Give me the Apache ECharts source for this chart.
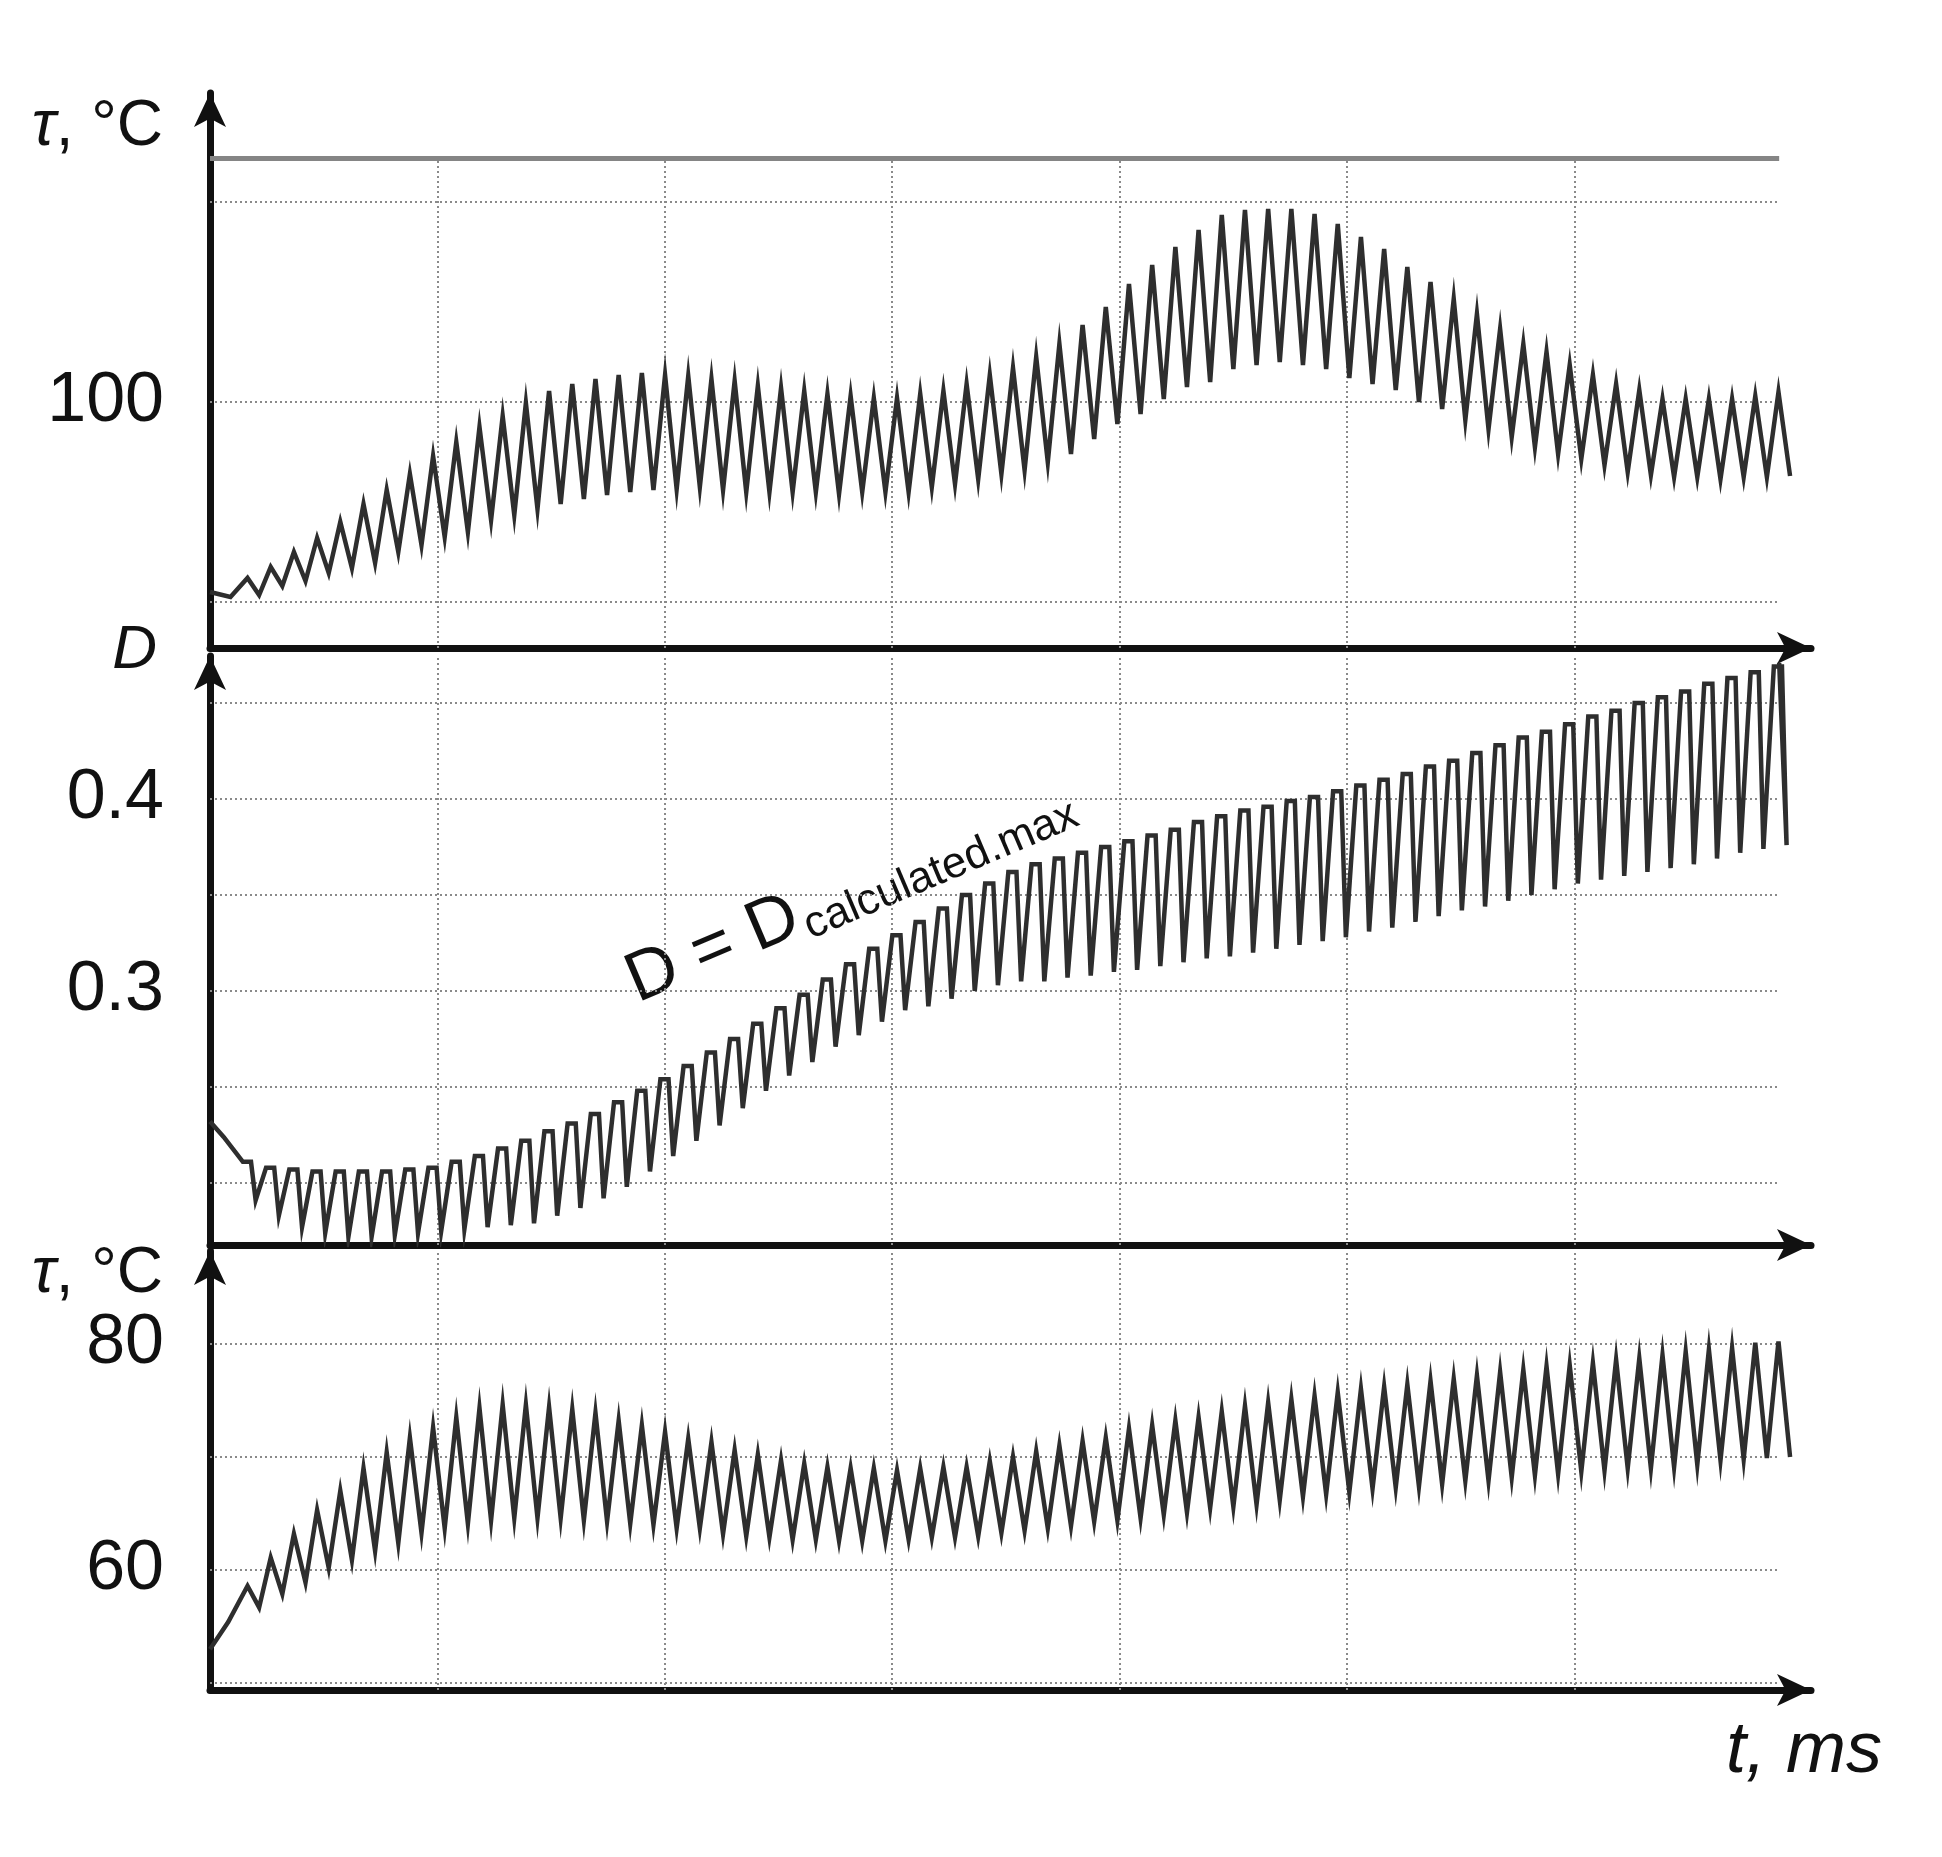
<!DOCTYPE html>
<html>
<head>
<meta charset="utf-8">
<script src="https://cdn.jsdelivr.net/npm/echarts@6/dist/echarts.min.js"></script>
<style>
  html, body { margin: 0; padding: 0; background: #fff; }
  #chart { width: 1942px; height: 1857px; }
</style>
</head>
<body>
<div id="chart"></div>
<script>
// time axis: one oscillation cycle every PERIOD, first peak at FIRST_PEAK
const PERIOD = 0.102;
const FIRST_PEAK = 0.165;
const T_MAX = 7.04;
const GRID_END = 6.9;
const T_GRID = [1, 2, 3, 4, 5, 6];

// upper panel: tau, °C
const TAU1_RANGE = [75.4, 130.9];
const TAU1_GRID = [80, 100, 120];
const TAU1_LABELS = [100];
const TAU1_LIMIT = 124.4;
const tau1Start = [[0, 81.0], [0.09, 80.5]];
const tau1Peaks = [
  82.4, 83.5, 85.0, 86.4, 88.0, 89.8, 91.2, 92.8, 94.6, 96.0,
  97.5, 98.6, 99.9, 101.1, 101.8, 102.3, 102.7, 102.9, 102.7, 102.6,
  102.3, 102.1, 101.6, 101.4, 101.1, 100.8, 100.6, 100.4, 100.4, 100.8,
  101.1, 101.8, 102.7, 103.4, 104.5, 105.8, 107.7, 109.5, 111.8, 113.7,
  115.5, 117.2, 118.7, 119.2, 119.3, 119.3, 118.8, 117.8, 116.5, 115.3,
  113.5, 112.0, 110.3, 108.8, 107.3, 105.8, 105.0, 103.7, 102.7, 101.8,
  101.2, 100.3, 100.3, 100.3, 100.3, 100.6, 101.0
];
const tau1Troughs = [
  80.7, 81.6, 82.1, 82.9, 83.4, 83.9, 85.0, 85.7, 86.5, 87.0,
  88.2, 88.7, 89.3, 89.8, 90.3, 90.7, 91.0, 91.2, 91.3, 91.5,
  91.2, 91.0, 91.0, 91.0, 91.0, 90.8, 91.0, 91.0, 91.0, 91.5,
  91.8, 92.3, 92.8, 93.2, 94.0, 94.8, 96.3, 97.8, 98.8, 100.3,
  101.5, 102.0, 103.3, 103.7, 104.0, 103.7, 103.3, 102.4, 101.8, 101.2,
  100.0, 99.3, 98.2, 97.3, 96.5, 95.5, 94.8, 94.3, 93.7, 93.0,
  92.7, 92.5, 92.5, 92.3, 92.5, 92.5, 92.6
];

// middle panel: D
const D_RANGE = [0.1677, 0.4745];
const D_GRID = [0.2, 0.25, 0.3, 0.35, 0.4, 0.45];
const D_LABELS = [0.3, 0.4];
const dStart = [[0, 0.232], [0.06, 0.224]];
const dEnd = [6.9, 0.471];
const dTops = [
  0.211, 0.208, 0.207, 0.206, 0.206, 0.206, 0.206, 0.207, 0.208, 0.211,
  0.214, 0.218, 0.222, 0.227, 0.231, 0.236, 0.242, 0.248, 0.254, 0.261,
  0.268, 0.275, 0.283, 0.291, 0.298, 0.306, 0.314, 0.322, 0.329, 0.336,
  0.343, 0.350, 0.356, 0.362, 0.366, 0.369, 0.372, 0.375, 0.378, 0.381,
  0.384, 0.388, 0.391, 0.394, 0.396, 0.399, 0.401, 0.404, 0.407, 0.410,
  0.413, 0.417, 0.420, 0.424, 0.428, 0.432, 0.435, 0.439, 0.443, 0.446,
  0.450, 0.453, 0.456, 0.460, 0.463, 0.466, 0.469
];
const dBottoms = [
  0.191, 0.183, 0.177, 0.174, 0.172, 0.172, 0.173, 0.174, 0.175, 0.176,
  0.177, 0.178, 0.179, 0.183, 0.187, 0.192, 0.198, 0.206, 0.214, 0.222,
  0.230, 0.239, 0.248, 0.256, 0.263, 0.271, 0.277, 0.284, 0.290, 0.292,
  0.296, 0.300, 0.303, 0.305, 0.305, 0.307, 0.308, 0.310, 0.311, 0.313,
  0.315, 0.317, 0.318, 0.320, 0.322, 0.324, 0.326, 0.328, 0.331, 0.333,
  0.336, 0.339, 0.342, 0.344, 0.347, 0.350, 0.353, 0.356, 0.358, 0.360,
  0.362, 0.364, 0.366, 0.369, 0.372, 0.374, 0.376
];

// lower panel: tau, °C
const TAU3_RANGE = [49.4, 88.2];
const TAU3_GRID = [50, 60, 70, 80];
const TAU3_LABELS = [60, 80];
const tau3Start = [[0, 53.0], [0.08, 55.4]];
const tau3Peaks = [
  58.6, 61.1, 63.2, 65.3, 67.0, 69.0, 70.4, 71.7, 72.6, 73.5,
  74.3, 74.6, 74.6, 74.4, 74.2, 73.9, 73.2, 72.8, 72.2, 71.6,
  71.3, 70.6, 70.2, 69.7, 69.4, 69.1, 69.0, 69.0, 68.8, 69.0,
  69.1, 69.1, 69.6, 70.0, 70.5, 71.0, 71.4, 71.7, 72.5, 72.8,
  73.2, 73.5, 74.0, 74.5, 74.8, 75.1, 75.4, 75.7, 76.0, 76.2,
  76.4, 76.7, 76.9, 77.2, 77.5, 77.7, 78.0, 78.1, 78.3, 78.6,
  78.7, 79.0, 79.3, 79.5, 79.6, 80.1, 80.2
];
const tau3Troughs = [
  56.7, 57.9, 58.9, 60.2, 60.9, 61.7, 62.4, 63.3, 63.7, 64.1,
  64.4, 64.6, 64.6, 64.6, 64.4, 64.3, 64.1, 64.0, 63.7, 63.7,
  63.2, 63.0, 62.9, 62.7, 62.7, 62.6, 62.6, 62.6, 62.7, 62.9,
  62.9, 63.0, 63.3, 63.5, 63.7, 63.9, 64.3, 64.4, 64.6, 64.9,
  65.1, 65.5, 65.6, 65.8, 66.2, 66.5, 66.7, 66.9, 67.2, 67.3,
  67.4, 67.6, 67.9, 67.9, 68.2, 68.4, 68.5, 68.7, 68.8, 69.0,
  69.0, 69.1, 69.3, 69.7, 69.8, 69.9, 70.0
];

const FONT = "'Liberation Sans', Arial, sans-serif";
const INK = '#111';
const TRACE = '#2e2e2e';

function zigzag(start, peaks, troughs) {
  const pts = start.slice();
  peaks.forEach((p, k) => {
    const t = FIRST_PEAK + k * PERIOD;
    pts.push([t, p]);
    pts.push([t + 0.5 * PERIOD, troughs[k]]);
  });
  return pts;
}

function sawtooth(start, tops, bottoms, end) {
  const pts = start.slice();
  tops.forEach((v, k) => {
    const t = FIRST_PEAK + k * PERIOD;
    pts.push([t - 0.2 * PERIOD, v]);
    pts.push([t + 0.15 * PERIOD, v]);
    pts.push([t + 0.35 * PERIOD, bottoms[k]]);
  });
  pts.push(end);
  return pts;
}

const dotted = { color: '#8a8a8a', width: 2, type: [2, 3] };

function gridLines(hValues, vTop, vBottom, extra) {
  const data = [];
  hValues.forEach((v) => data.push([{ coord: [0, v] }, { coord: [GRID_END, v] }]));
  T_GRID.forEach((t) => data.push([{ coord: [t, vBottom] }, { coord: [t, vTop] }]));
  return data.concat(extra || []);
}

function gridSeries(idx, data) {
  return {
    type: 'line', xAxisIndex: idx, yAxisIndex: idx, data: [], silent: true,
    markLine: {
      silent: true, symbol: ['none', 'none'], label: { show: false },
      lineStyle: dotted, animation: false, z: 1, data: data
    }
  };
}

function traceSeries(idx, data) {
  return {
    type: 'line', xAxisIndex: idx, yAxisIndex: idx, data: data, z: 10,
    showSymbol: false, silent: true,
    lineStyle: { color: TRACE, width: 4.5, join: 'miter' }
  };
}

function xAxis(idx) {
  return {
    type: 'value', gridIndex: idx, min: 0, max: T_MAX,
    axisLine: { show: true, symbol: ['none', 'arrow'], symbolSize: [24, 34],
      lineStyle: { color: INK, width: 7 } },
    axisTick: { show: false }, axisLabel: { show: false }, splitLine: { show: false }
  };
}

function yAxis(idx, range, labels, fmt) {
  return {
    type: 'value', gridIndex: idx, min: range[0], max: range[1],
    axisLine: { show: true, symbol: ['none', 'arrow'], symbolSize: [24, 34],
      lineStyle: { color: INK, width: 7 } },
    axisTick: { show: false },
    splitLine: { show: false },
    axisLabel: {
      customValues: labels, margin: 46, color: INK,
      fontSize: 70, fontFamily: FONT, formatter: fmt
    }
  };
}

function label(x, y, text, size, align, italic) {
  return {
    type: 'text', x: x, y: y, silent: true,
    style: {
      text: text, fill: INK, font: (italic ? 'italic ' : '') + size + 'px ' + FONT,
      align: align, verticalAlign: 'middle'
    }
  };
}

function tauTitle(x, y) {
  return {
    type: 'text', x: x, y: y, silent: true,
    style: {
      text: '{i|τ}{n|, °C}', align: 'right', verticalAlign: 'middle', fill: INK,
      rich: {
        i: { fontSize: 64, fontFamily: FONT, fontStyle: 'italic', fill: INK },
        n: { fontSize: 64, fontFamily: FONT, fill: INK }
      }
    }
  };
}

const chart = echarts.init(document.getElementById('chart'), null, { renderer: 'canvas' });
const ANGLE = 23 * Math.PI / 180;

chart.setOption({
  animation: false,
  backgroundColor: '#fff',
  grid: [
    { left: 210, right: 131, top: 93, height: 555 },
    { left: 210, right: 131, top: 656, height: 589 },
    { left: 210, right: 131, top: 1251, height: 439 }
  ],
  xAxis: [xAxis(0), xAxis(1), xAxis(2)],
  yAxis: [
    yAxis(0, TAU1_RANGE, TAU1_LABELS, (v) => String(Math.round(v))),
    yAxis(1, D_RANGE, D_LABELS, (v) => v.toFixed(1)),
    yAxis(2, TAU3_RANGE, TAU3_LABELS, (v) => String(Math.round(v)))
  ],
  series: [
    gridSeries(0, gridLines(TAU1_GRID, TAU1_LIMIT, TAU1_RANGE[0], [
      [{ coord: [0, TAU1_LIMIT], lineStyle: { color: '#858585', width: 5, type: 'solid' } },
       { coord: [GRID_END, TAU1_LIMIT] }]
    ])),
    gridSeries(1, gridLines(D_GRID, D_RANGE[1], D_RANGE[0])),
    gridSeries(2, gridLines(TAU3_GRID, TAU3_RANGE[1], TAU3_RANGE[0])),
    traceSeries(0, zigzag(tau1Start, tau1Peaks, tau1Troughs)),
    traceSeries(1, sawtooth(dStart, dTops, dBottoms, dEnd)),
    traceSeries(2, zigzag(tau3Start, tau3Peaks, tau3Troughs))
  ],
  graphic: [
    tauTitle(163, 127),
    label(157, 651, 'D', 62, 'right', true),
    tauTitle(163, 1274),
    label(1726, 1752, 't, ms', 72, 'left', true),
    {
      type: 'text', x: 630, y: 985, rotation: ANGLE, silent: true,
      style: { text: 'D = D', fill: INK, font: '70px ' + FONT, align: 'left', verticalAlign: 'middle' }
    },
    {
      type: 'text', x: 806, y: 928, rotation: ANGLE, silent: true,
      style: { text: 'calculated.max', fill: INK, font: '44px ' + FONT, align: 'left', verticalAlign: 'middle' }
    }
  ]
});
</script>
</body>
</html>
